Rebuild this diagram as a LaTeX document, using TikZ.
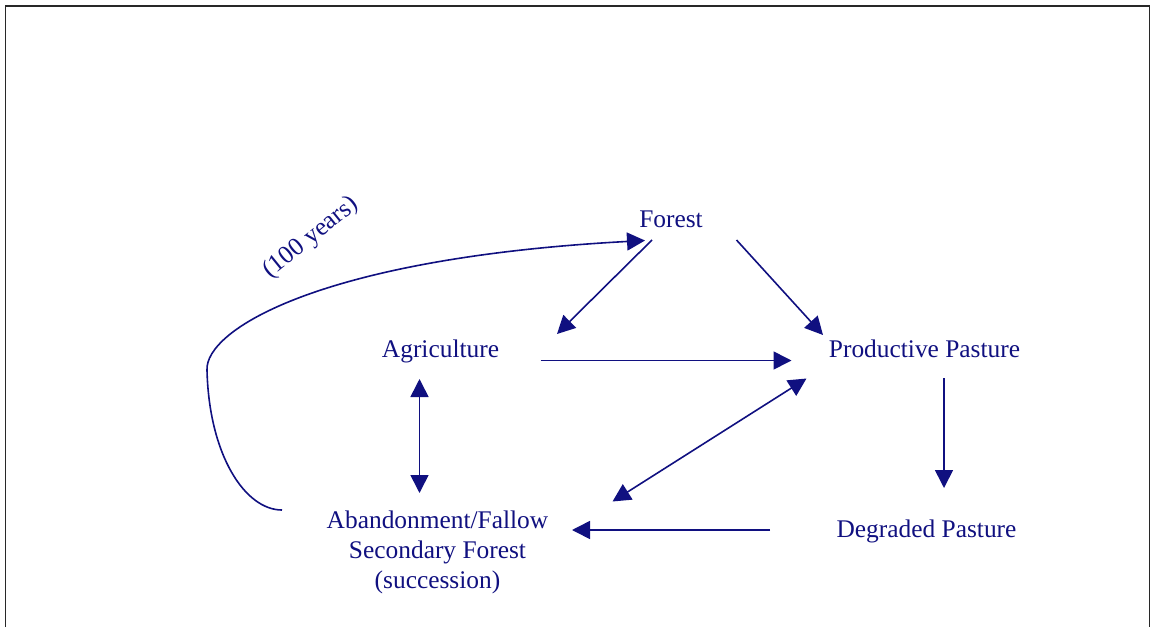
\documentclass[tikz,border=0pt]{standalone}
\usepackage{fontspec}
\setmainfont{Liberation Serif}
\usetikzlibrary{arrows.meta}
\definecolor{landblue}{RGB}{16,16,128}
\definecolor{framegray}{RGB}{40,40,40}

\begin{document}
\begin{tikzpicture}[
  x=0.5pt, y=-0.5pt,
  use/.style={text=landblue, inner sep=0pt, font=\fontsize{12.7}{15}\selectfont},
  arrow/.style={-{Triangle[length=9pt, width=9pt]}, color=landblue, line width=0.8pt},
  twoway/.style={{Triangle[length=9pt, width=9pt]}-{Triangle[length=9pt, width=9pt]}, color=landblue, line width=0.8pt}
]
  \useasboundingbox (0,0) rectangle (1151,627);
  \draw[framegray, line width=0.9pt] (5.5,627) -- (5.5,6) -- (1149.5,6) -- (1149.5,627);

  \node[use, anchor=base] (forest) at (671,227) {Forest};

  \node[use, anchor=base] (agri) at (440.5,357) {Agriculture};

  \node[use, anchor=base] (prodpast) at (924.5,357) {Productive Pasture};

  \node[use, anchor=base] (degpast) at (926.5,537) {Degraded Pasture};

  \node[use, align=center] (fallow) at (437.5,552) {Abandonment/Fallow\\Secondary Forest\\(succession)};

  \node[use, rotate=39] (yrs) at (311,238) {(100 years)};

  \draw[arrow] ([shift={(-19,13)}]forest.base) -- ([shift={(116.5,-23)}]agri.base);
  \draw[arrow] ([shift={(65.5,13)}]forest.base) -- ([shift={(-101.5,-22)}]prodpast.base);
  \draw[arrow] ([shift={(100,3.5)}]agri.base) -- ([shift={(-133,3.5)}]prodpast.base);
  \draw[arrow] ([shift={(19.5,21)}]prodpast.base) -- ([shift={(17.5,-49)}]degpast.base);
  \draw[arrow] ([shift={(-156.5,-7)}]degpast.base) -- ([shift={(134.5,-22)}]fallow.center);
  \draw[twoway] ([shift={(-118,21.5)}]prodpast.base) -- ([shift={(175,-50.5)}]fallow.center);
  \draw[twoway] ([shift={(-21,22)}]agri.base) -- ([shift={(-18,-59)}]fallow.center);

  % long way back to forest
  \draw[arrow] ([shift={(-155.5,-42)}]fallow.center)
    .. controls (245,510) and (209,455) .. (207,370)
    .. controls (205,330) and (320,258) .. ([shift={(-26,13.5)}]forest.base);
\end{tikzpicture}
\end{document}
